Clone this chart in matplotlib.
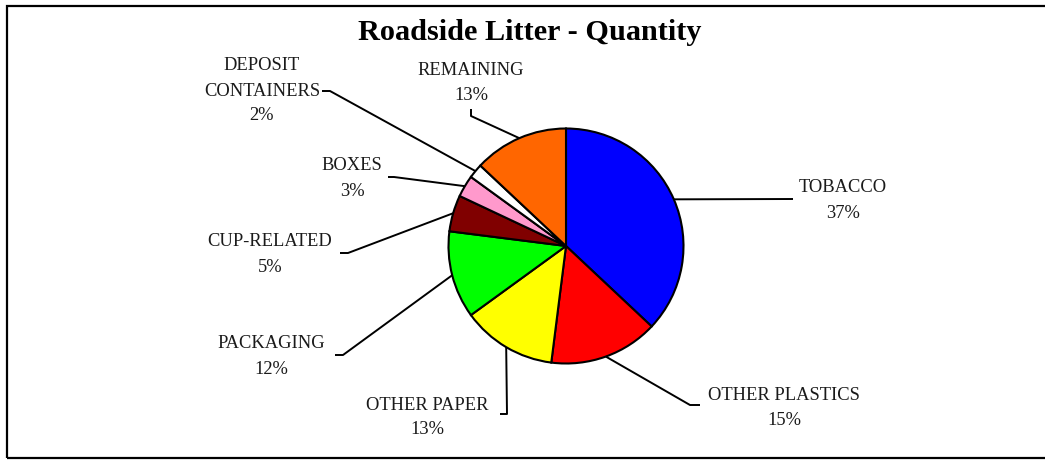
import numpy as np
import matplotlib
matplotlib.use("Agg")
import matplotlib.pyplot as plt
from matplotlib.patches import Rectangle

# ---- data ----
categories = ['TOBACCO', 'OTHER PLASTICS', 'OTHER PAPER', 'PACKAGING',
              'CUP-RELATED', 'BOXES', 'DEPOSIT\nCONTAINERS', 'REMAINING']
values = [37, 15, 13, 12, 5, 3, 2, 13]
colors = ['#0000FF', '#FF0000', '#FFFF00', '#00FF00',
          '#800000', '#FF99CC', '#FFFFFF', '#FF6600']
title = 'Roadside Litter - Quantity'

# ---- layout (pixel coordinates, y measured from top) ----
W, H = 1045, 461
cx, cy, R = 566, 246, 117.5
# label name-line center, percent-line center
label_pos = [(843, 188, 213), (784, 395, 420), (427, 405, 429), (271, 344, 369),
             (270, 242, 267), (352, 166, 191), (262, 66, 116), (471, 71, 96)]
# leader: start point near label, elbow point
leader = [((793, 199), (793, 199)), ((700, 405), (690, 405)), ((500, 414), (507, 414)),
          ((335, 355), (343, 355)), ((340, 253), (348, 253)), ((388, 177), (394, 177)),
          ((322, 91), (330, 91)), ((471, 109), (471, 116))]

FAM = ['Liberation Serif', 'DejaVu Serif']
FS = 13.3

def fy(y):
    return H - y

fig = plt.figure(figsize=(W / 100, H / 100), dpi=100)
ax = fig.add_axes([0, 0, 1, 1])
ax.set_xlim(0, W)
ax.set_ylim(0, H)
ax.axis('off')

# border
ax.add_patch(Rectangle((7, fy(458)), W + 20, 452, fill=False, lw=1.6,
                       edgecolor='black', clip_on=False))

ax.pie(values, colors=colors, startangle=90, counterclock=False,
       center=(cx, fy(cy)), radius=R,
       wedgeprops=dict(edgecolor='black', linewidth=1.5))
ax.set_xlim(0, W)
ax.set_ylim(0, H)
ax.set_aspect('auto')

total = float(sum(values))
cum = np.cumsum([0] + values)
for i, (cat, v) in enumerate(zip(categories, values)):
    a0 = 90 - 360 * cum[i] / total
    a1 = 90 - 360 * cum[i + 1] / total
    mid = np.deg2rad((a0 + a1) / 2)
    px, py = cx + R * np.cos(mid), cy - R * np.sin(mid)
    (sx, sy), (ex, ey) = leader[i]
    ax.plot([sx, ex, px], [fy(sy), fy(ey), fy(py)], color='black', lw=1.4,
            solid_capstyle='butt')
    x, ny, pyy = label_pos[i]
    lines = cat.split('\n')
    for j, line in enumerate(lines):
        ax.text(x, fy(ny + 25 * j), line, ha='center', va='center',
                fontsize=FS, family=FAM, color='#1a1a1a')
    ax.text(x, fy(pyy), f'{v}%', ha='center', va='center',
            fontsize=FS, family=FAM, color='#1a1a1a')

ax.text(530, fy(33), title, ha='center', va='center', fontsize=21.8,
        fontweight='bold', family=FAM)

fig.savefig('out.png', dpi=100)
